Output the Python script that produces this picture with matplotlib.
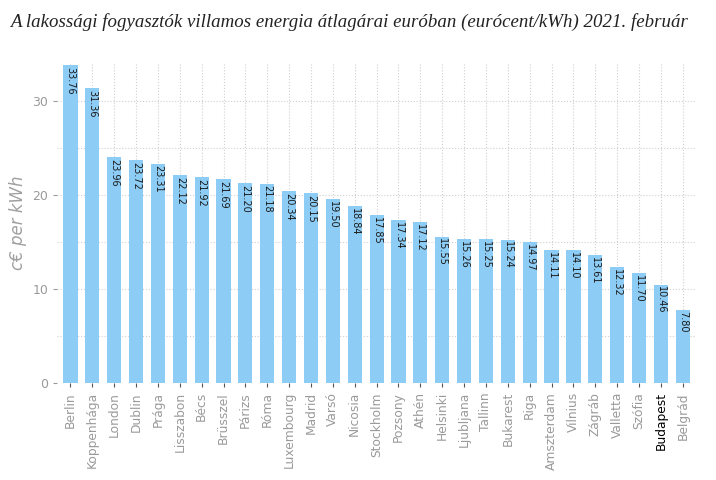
import matplotlib
matplotlib.use('Agg')
import matplotlib.pyplot as plt
import numpy as np

cities = ['Berlin', 'Koppenhága', 'London', 'Dublin', 'Prága', 'Lisszabon', 'Bécs',
          'Brüsszel', 'Párizs', 'Róma', 'Luxembourg', 'Madrid', 'Varsó', 'Nicosia',
          'Stockholm', 'Pozsony', 'Athén', 'Helsinki', 'Ljubljana', 'Tallinn',
          'Bukarest', 'Riga', 'Amszterdam', 'Vilnius', 'Zágráb', 'Valletta',
          'Szófia', 'Budapest', 'Belgrád']
prices = [33.76, 31.36, 23.96, 23.72, 23.31, 22.12, 21.92, 21.69, 21.20, 21.18,
          20.34, 20.15, 19.50, 18.84, 17.85, 17.34, 17.12, 15.55, 15.26, 15.25,
          15.24, 14.97, 14.11, 14.10, 13.61, 12.32, 11.70, 10.46, 7.80]
highlight = 'Budapest'

fig = plt.figure(figsize=(7.16, 4.8), dpi=100)
ax = fig.add_axes([0.08, 0.202, 0.892, 0.669])

x = np.arange(len(cities))
ax.bar(x, prices, width=0.65, color='#8DCDF5', zorder=2)

for xi, v in zip(x, prices):
    ax.text(xi, v - 0.2, '%.2f' % v, rotation=-90, ha='center', va='top',
            fontsize=7, color='#1a1a1a', zorder=3)

ax.set_xlim(-0.6, len(cities) - 0.4)
ax.set_ylim(0, 34.1)
ax.set_yticks([0, 10, 20, 30])
ax.set_yticks([5, 15, 25], minor=True)
ax.set_xticks(x)
ax.set_xticklabels(cities, rotation=90, fontsize=8.8, color='#9a9a9a')
for lbl in ax.get_xticklabels():
    if lbl.get_text() == highlight:
        lbl.set_color('black')
ax.tick_params(axis='y', labelsize=9, labelcolor='#9a9a9a', color='#9a9a9a', length=3)
ax.tick_params(axis='y', which='minor', length=0)
ax.tick_params(axis='x', color='#555555', length=3)

ax.grid(True, which='both', linestyle=':', color='#d0d0d0', linewidth=0.8, zorder=0)
for s in ax.spines.values():
    s.set_visible(False)

ax.set_ylabel('c€ per kWh', fontsize=12, style='italic', color='#a0a0a0')

fig.text(0.014, 0.955, 'A lakossági fogyasztók villamos energia átlagárai euróban (eurócent/kWh) 2021. február',
         family='Liberation Serif', style='italic', fontsize=13.6, color='#222222',
         ha='left', va='center')

fig.savefig('out.png', dpi=100)
